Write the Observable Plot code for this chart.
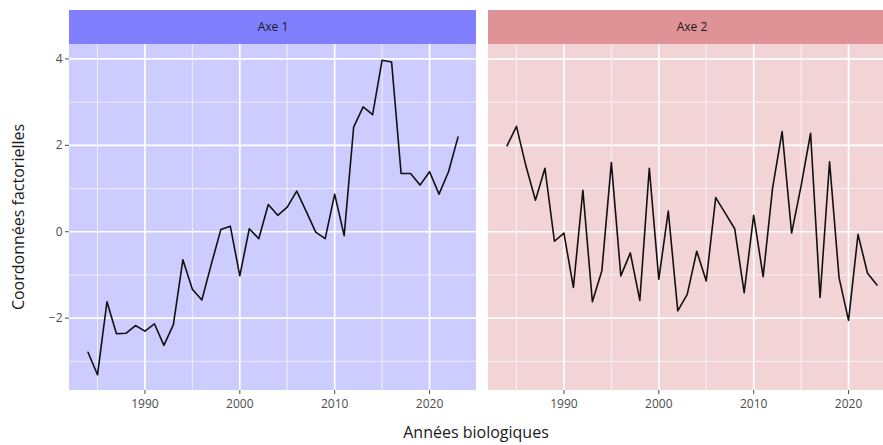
<!DOCTYPE html>
<html>
<head>
<meta charset="utf-8">
<script src="https://cdn.jsdelivr.net/npm/d3@7"></script>
<script src="https://cdn.jsdelivr.net/npm/@observablehq/plot@0.6"></script>
<style>
  html, body { margin: 0; padding: 0; background: #ffffff; overflow: hidden; }
  #wrap { width: 883px; height: 445px; overflow: hidden; }
  #wrap svg { max-width: none !important; }
</style>
</head>
<body>
<div id="wrap"></div>
<script>
const panels = ["Axe 1", "Axe 2"];
const stripColors = ["#8080ff", "#e09396"];
const panelColors = ["#ccccff", "#f2d3d6"];
const years = [1984, 1985, 1986, 1987, 1988, 1989, 1990, 1991, 1992, 1993,
               1994, 1995, 1996, 1997, 1998, 1999, 2000, 2001, 2002, 2003,
               2004, 2005, 2006, 2007, 2008, 2009, 2010, 2011, 2012, 2013,
               2014, 2015, 2016, 2017, 2018, 2019, 2020, 2021, 2022, 2023];
const axe1 = [-2.79, -3.31, -1.62, -2.36, -2.35, -2.17, -2.30, -2.13, -2.63, -2.15,
              -0.65, -1.33, -1.58, -0.75, 0.05, 0.13, -1.02, 0.07, -0.16, 0.63,
              0.38, 0.57, 0.94, 0.47, -0.01, -0.16, 0.87, -0.09, 2.42, 2.89,
              2.71, 3.97, 3.93, 1.35, 1.35, 1.08, 1.39, 0.87, 1.39, 2.19];
const axe2 = [1.99, 2.44, 1.52, 0.73, 1.47, -0.22, -0.03, -1.29, 0.96, -1.62,
              -0.90, 1.60, -1.02, -0.49, -1.59, 1.47, -1.10, 0.48, -1.83, -1.45,
              -0.45, -1.14, 0.79, 0.43, 0.07, -1.41, 0.38, -1.04, 1.02, 2.32,
              -0.03, 1.06, 2.28, -1.52, 1.62, -1.06, -2.05, -0.06, -0.96, -1.23];
const majorX = [1990, 2000, 2010, 2020];
const minorX = [1985, 1995, 2005, 2015];
const majorY = [-2, 0, 2, 4];
const minorY = [-3, -1, 1, 3];

const series = [axe1, axe2];
const data = panels.flatMap((p, i) => years.map((yr, j) => ({panel: p, year: yr, value: series[i][j]})));
const panelRows = panels.map((p, i) => ({panel: p, strip: stripColors[i], bg: panelColors[i]}));

const xExt = d3.extent(years);
const xPad = (xExt[1] - xExt[0]) * 0.05;
const xDomain = [xExt[0] - xPad, xExt[1] + xPad];
const yExt = d3.extent(data, d => d.value);
const yPad = (yExt[1] - yExt[0]) * 0.05;
const yDomain = [yExt[0] - yPad, yExt[1] + yPad];
const xMid = (xDomain[0] + xDomain[1]) / 2;

const chart = Plot.plot({
  width: 895,
  height: 445,
  marginLeft: 69,
  marginRight: 0,
  marginTop: 44,
  marginBottom: 55,
  style: {fontFamily: "'Open Sans', sans-serif", fontSize: "12px", background: "#ffffff", color: "#4d4d4d", maxWidth: "none"},
  fx: {domain: panels, axis: null, paddingInner: 0.0286, paddingOuter: 0, round: false},
  x: {domain: xDomain, ticks: majorX, tickFormat: d => String(d), tickSize: 4, tickPadding: 5, label: null},
  y: {domain: yDomain, ticks: majorY, tickFormat: d => (d < 0 ? "\u2212" + Math.abs(d) : String(d)), tickSize: 4, tickPadding: 3, label: null},
  marks: [
    Plot.rect(panelRows, {fx: "panel", x1: () => xDomain[0], x2: () => xDomain[1], y1: () => yDomain[0], y2: () => yDomain[1], fill: "bg"}),
    Plot.ruleX(minorX, {stroke: "#ffffff", strokeWidth: 0.9, strokeOpacity: 0.75}),
    Plot.ruleY(minorY, {stroke: "#ffffff", strokeWidth: 0.9, strokeOpacity: 0.75}),
    Plot.ruleX(majorX, {stroke: "#ffffff", strokeWidth: 1.7}),
    Plot.ruleY(majorY, {stroke: "#ffffff", strokeWidth: 1.7}),
    Plot.line(data, {fx: "panel", x: "year", y: "value", stroke: "#111111", strokeWidth: 1.6}),
    Plot.rect(panelRows, {fx: "panel", x1: () => xDomain[0], x2: () => xDomain[1], y1: () => yDomain[1], y2: () => yDomain[1], insetTop: -34, fill: "strip"}),
    Plot.text(panelRows, {fx: "panel", x: () => xMid, y: () => yDomain[1], dy: -17, text: "panel", fill: "#1a1a1a", fontSize: 12})
  ]
});

const svg = d3.select(chart);
svg.append("text")
  .attr("x", 476).attr("y", 438)
  .attr("text-anchor", "middle")
  .attr("font-family", "'Open Sans', sans-serif")
  .attr("font-size", 16)
  .attr("fill", "#1a1a1a")
  .text("Années biologiques");
svg.append("text")
  .attr("transform", "translate(24,217) rotate(-90)")
  .attr("text-anchor", "middle")
  .attr("font-family", "'Open Sans', sans-serif")
  .attr("font-size", 16)
  .attr("fill", "#1a1a1a")
  .text("Coordonnées factorielles");

document.getElementById("wrap").appendChild(chart);
</script>
</body>
</html>
